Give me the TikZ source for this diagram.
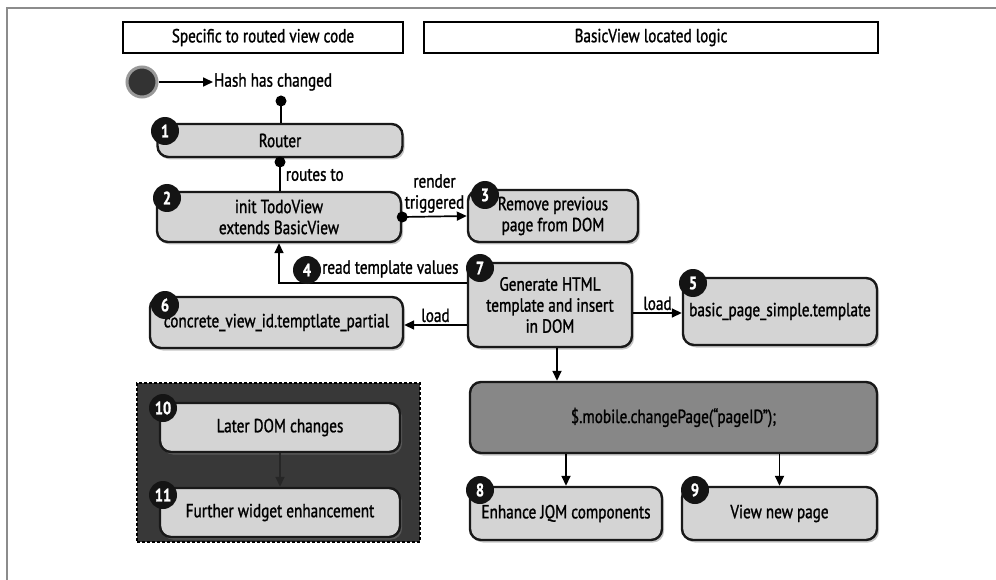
\documentclass[tikz,border=0pt]{standalone}
\usepackage{fontspec}
\setmainfont{PT Sans}[FakeStretch=0.8, FakeBold=1.2]
\usetikzlibrary{arrows.meta,shadows,calc}
\begin{document}
\begin{tikzpicture}[x=1pt,y=-1pt,
  font=\fontsize{19}{21}\selectfont,
  >={Triangle[length=10pt,width=9pt]},
  conn/.style={draw=black, line width=1.7pt},
  box/.style={draw=black!90, line width=2.4pt, rounded corners=11pt, fill=black!17,
    drop shadow={shadow xshift=2pt, shadow yshift=-2.5pt, opacity=0.45},
    align=center, inner sep=0pt},
  hdr/.style={draw=black, line width=1.4pt, fill=white, inner sep=0pt, minimum height=31pt},
  badge/.style={circle, fill=black!92, text=white, inner sep=0pt, minimum size=28pt,
    font=\bfseries\fontsize{18}{18}\selectfont},
  lbl/.style={inner sep=1pt, align=center},
  dotc/.style={fill=black}
]
\useasboundingbox (0,0) rectangle (996,580);
% outer frame
\draw[black!45, line width=1.2pt] (7,580) -- (7,8) -- (996,8);

% headers
\node[hdr, minimum width=280pt] (h1) at (263,37.5) {Specific to routed view code};
\node[hdr, minimum width=454pt] (h2) at (651,37.5) {BasicView located logic};

% start
\node[circle, fill=black!80, draw=black!40, line width=3pt, minimum size=30pt, inner sep=0pt] (start) at (142,82) {};
\node[lbl, anchor=west] (hash) at (213,82) {Hash has changed};
\draw[conn,->] (start) -- (hash);

% dark group
\node[draw=black, line width=1.6pt, dash pattern=on 3pt off 2pt, fill=black!78,
  minimum width=283pt, minimum height=159pt, inner sep=0pt] (grp) at (278.5,462.5) {};

% boxes
\node[box, minimum width=245pt, minimum height=33pt] (router) at (280,140.5) {Router};
\node[box, minimum width=244pt, minimum height=50pt] (b2) at (279,217) {init TodoView\\extends BasicView};
\node[box, minimum width=170pt, minimum height=52pt] (b3) at (553,216) {Remove previous\\page from DOM};
\node[box, minimum width=164pt, minimum height=84pt] (b7) at (550,305) {Generate HTML\\template and insert\\in DOM};
\node[box, minimum width=194pt, minimum height=67pt] (b5) at (780,311.5) {basic\_page\_simple.template};
\node[box, minimum width=253pt, minimum height=51pt] (b6) at (276.5,322.5) {\raisebox{-5pt}{concrete\_view\_id.temptlate\_partial}};
\node[box, fill=black!47, minimum width=407pt, minimum height=71pt] (cp) at (673.5,417.5) {\$.mobile.changePage(“pageID”);};
\node[box, minimum width=192pt, minimum height=53pt] (b8) at (566,513.5) {Enhance JQM components};
\node[box, minimum width=195pt, minimum height=53pt] (b9) at (779.5,513.5) {View new page};
\node[box, minimum width=240pt, minimum height=49pt] (b10) at (280,427.5) {Later DOM changes};
\node[box, minimum width=240pt, minimum height=49pt] (b11) at (280,512.5) {Further widget enhancement};

% connectors
\coordinate (hd) at (281,101);
\draw[conn] (hd) -- (hd |- router.north);
\fill[dotc] (hd) circle (5.5);

\coordinate (rd) at (280,162);
\draw[conn] (rd) -- (rd |- b2.north) node[lbl, pos=0.45, anchor=west, xshift=4pt] (rto) {routes to};
\fill[dotc] (rd) circle (5.5);

\draw[conn,->] (b2.east) -- (b3.west) node[lbl, midway, above, yshift=2pt] (rtr) {render\\triggered};
\fill[dotc] (b2.east) circle (5.5);

\draw[conn,->] ([yshift=22pt]b7.west) -| (b2.south);
\node[lbl, anchor=west] (rtv) at (321,269) {read template values};

\draw[conn,->] ([yshift=-20pt]b7.west) -- ([yshift=-20pt]b7.west -| b6.east)
  node[lbl, midway, above, yshift=1pt] (ld1) {load};
\draw[conn,->] ([yshift=-8pt]b7.east) -- ([yshift=-8pt]b7.east -| b5.west)
  node[lbl, midway, above, yshift=1pt] (ld2) {load};

\draw[conn,->] ([xshift=7pt]b7.south) -- ([xshift=7pt]b7.south |- cp.north);
\draw[conn,->] (b8.north |- cp.south) -- (b8.north);
\draw[conn,->] (b9.north |- cp.south) -- (b9.north);
\draw[conn,->, draw=black!85] (b10.south) -- (b11.north);

% badges
\node[badge] (n1) at (165,131) {1};
\node[badge] (n2) at (167,198) {2};
\node[badge] (n3) at (485,195) {3};
\node[badge] (n4) at (307,270) {4};
\node[badge] (n5) at (693,283) {5};
\node[badge] (n6) at (165,305) {6};
\node[badge] (n7) at (480,268) {7};
\node[badge] (n8) at (480,490) {8};
\node[badge] (n9) at (695,490) {9};
\node[badge] (n10) at (163,408) {10};
\node[badge] (n11) at (163,495) {11};
\end{tikzpicture}
\end{document}
